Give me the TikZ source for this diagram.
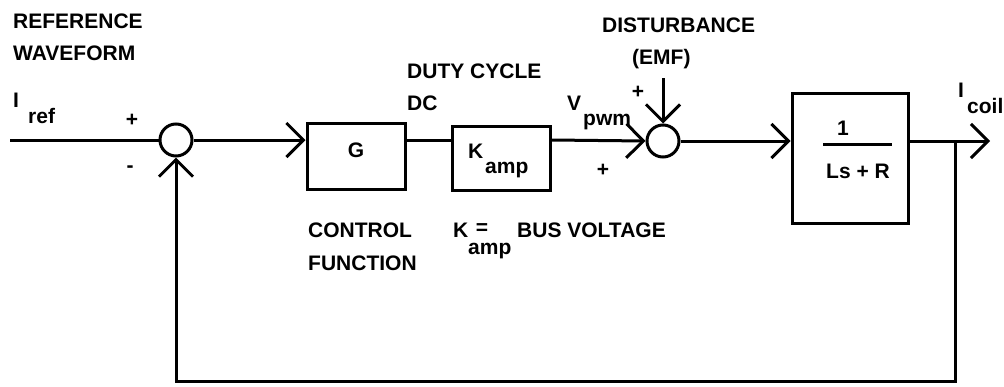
\documentclass[tikz,border=0pt]{standalone}
\usepackage{fontspec}
\setmainfont{Liberation Sans}
\usetikzlibrary{arrows.meta}
\begin{document}
\begin{tikzpicture}[x=1pt,y=-1pt,
  line/.style={line width=3pt, line join=miter},
  arr/.style={line, -{Straight Barb[length=17pt,width=34pt,line width=3pt]}},
  blk/.style={draw, line width=3pt, inner sep=0pt},
  sum/.style={draw, circle, line width=3pt, minimum size=32pt, inner sep=0pt},
  txt/.style={font=\bfseries\fontsize{21}{24}\selectfont, inner sep=0pt, anchor=base west},
  ctxt/.style={font=\bfseries\fontsize{21}{24}\selectfont, inner sep=0pt}
]
\useasboundingbox (0,0) rectangle (1004,386);

% blocks and junctions
\node[sum] (j1) at (176,140) {};
\node[sum] (j2) at (663,141) {};
\node[blk, minimum width=98pt, minimum height=66pt] (G) at (356,156) {};
\node[blk, minimum width=98pt, minimum height=64pt] (K) at (501,158) {};
\node[blk, minimum width=116pt, minimum height=130pt] (P) at (850,158) {};

% coordinates
\coordinate (in) at (10,140);
\coordinate (out) at (990,141);
\coordinate (br) at (955,141);
\coordinate (bl) at (176,381);
\coordinate (dist) at (663,78);

% connectors
\draw[line] (in) -- (j1.west);
\draw[arr] (j1.east) -- (j1 -| G.west);
\draw[line] (j1 -| G.east) -- (j1 -| K.west);
\draw[arr] (j1 -| K.east) -- (j2.west);
\draw[arr] (j2.east) -- (j2 -| P.west);
\draw[arr] (j2 -| P.east) -- (out);
\draw[arr] (br) |- (bl) -- (j1.south);
\draw[arr] (dist) -- (j2.north);
\draw[line] (823,144) -- (892,144);

% texts
\node[txt] (t1) at (13,28) {REFERENCE};
\node[txt] (t2) at (13,60) {WAVEFORM};
\node[txt] (t3) at (13,107) {I};
\node[txt] (t4) at (28,123) {ref};
\node[ctxt] (t5) at (132,120) {+};
\node[ctxt] (t6) at (130,169) {-};
\node[ctxt] (t7) at (356,150) {G};
\node[txt] (t8) at (407,78) {DUTY CYCLE};
\node[txt] (t9) at (407,110) {DC};
\node[txt] (t10) at (468,158) {K};
\node[txt] (t11) at (485,173) {amp};
\node[txt] (t12) at (567,110) {V};
\node[txt] (t13) at (583,125) {pwm};
\node[ctxt] (t14) at (638,92) {+};
\node[ctxt] (t15) at (603,170) {+};
\node[txt] (t16) at (602,32) {DISTURBANCE};
\node[txt] (t17) at (632,64) {(EMF)};
\node[ctxt] (t18) at (843,128) {1};
\node[ctxt] (t19) at (858,171) {Ls + R};
\node[txt] (t20) at (958,97) {I};
\node[txt] (t21) at (967,113) {coil};
\node[txt] (t22) at (308,237) {CONTROL};
\node[txt] (t23) at (308,270) {FUNCTION};
\node[txt] (t24) at (453,237) {K};
\node[ctxt] (t25) at (482,229) {=};
\node[txt] (t26) at (468,254) {amp};
\node[txt] (t27) at (517,237) {BUS VOLTAGE};
\end{tikzpicture}
\end{document}
